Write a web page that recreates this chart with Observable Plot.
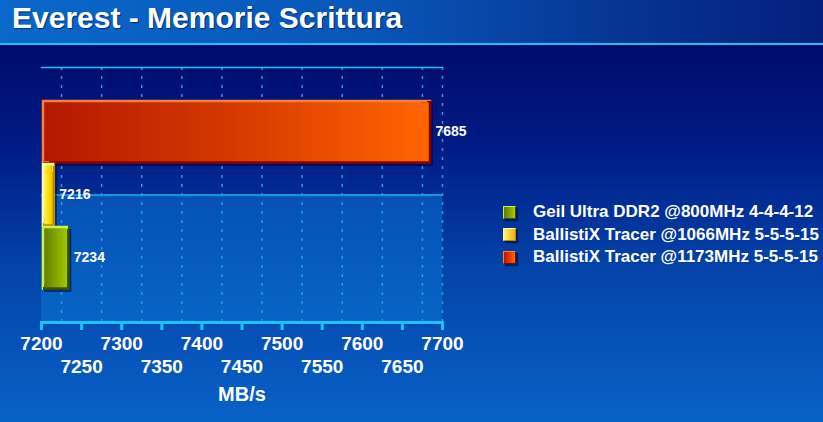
<!DOCTYPE html>
<html>
<head>
<meta charset="utf-8">
<script src="https://cdn.jsdelivr.net/npm/d3@7"></script>
<script src="https://cdn.jsdelivr.net/npm/@observablehq/plot@0.6"></script>
<style>
  html, body { margin: 0; padding: 0; background: #000870; }
  #wrap {
    position: relative; width: 823px; height: 422px; overflow: hidden;
    font-family: "Liberation Sans", Arial, sans-serif;
    background: linear-gradient(180deg, #000a6c 0px, #000a6c 46px, #001c86 150px, #0444aa 270px, #0862c6 422px);
  }
  #titlebar {
    position: absolute; left: 0; top: 0; width: 823px; height: 43px;
    background: linear-gradient(90deg, #0a68ca 0%, #0856b8 45%, #06308e 80%, #041f7e 100%);
    border-bottom: 2px solid #1ec2f2;
  }
  #title {
    position: absolute; left: 12px; top: 0px; color: #fff; font-weight: bold;
    font-size: 30px; line-height: 35px; white-space: nowrap;
    text-shadow: 1px 1px 1px rgba(0, 10, 60, 0.6);
  }
  #floor {
    position: absolute; left: 41px; top: 194px; width: 401px; height: 128px;
    background: linear-gradient(180deg, #0552b6 0%, #0864c6 100%);
    border-top: 2px solid #1a92da; box-sizing: border-box;
  }
  #chart { position: absolute; left: 0; top: 0; }
  #legend { position: absolute; left: 503px; top: 201px; }
  .item { display: flex; align-items: center; height: 22.5px; white-space: nowrap; }
  .sw { width: 11px; height: 11px; margin-right: 17px; border: 1px solid; box-shadow: 2px 2px 1px rgba(0,0,40,0.5); }
  .lab { color: #fff; font-weight: bold; font-size: 17px; }
</style>
</head>
<body>
<div id="wrap">
  <div id="titlebar"></div>
  <div id="title">Everest - Memorie Scrittura</div>
  <div id="floor"></div>
  <div id="chart"></div>
  <div id="legend"></div>
</div>
<script>
// ---- data ----
const seriesNames = [
  "BallistiX Tracer @1173MHz 5-5-5-15",
  "BallistiX Tracer @1066MHz 5-5-5-15",
  "Geil Ultra DDR2 @800MHz 4-4-4-12"
];
const seriesValues = [7685, 7216, 7234];
const legendOrder = [
  "Geil Ultra DDR2 @800MHz 4-4-4-12",
  "BallistiX Tracer @1066MHz 5-5-5-15",
  "BallistiX Tracer @1173MHz 5-5-5-15"
];
const xDomain = [7200, 7700];
const majorTicks = [7200, 7300, 7400, 7500, 7600, 7700];
const minorTicks = [7250, 7350, 7450, 7550, 7650];
const allTicks = [7200, 7250, 7300, 7350, 7400, 7450, 7500, 7550, 7600, 7650, 7700];
const gridValues = [7225, 7275, 7325, 7375, 7425, 7475, 7525, 7575, 7625, 7675, 7700];
const axisLabel = ["MB/s"];

// ---- styles (per series, same order as seriesNames) ----
const fillStops = [
  ["#b41800", "#d63a00", "#ff6600"],
  ["#fff27a", "#ffe000", "#e8b400"],
  ["#5e7c00", "#82a400", "#a4cc00"]
];
const edgeStops = [
  ["#f4803c", "#8c0000"],
  ["#fff6b0", "#b88a00"],
  ["#cef04a", "#3c5400"]
];

const data = seriesNames.map((name, i) => ({name, value: seriesValues[i], i}));
const cyan = "#1ec2f2";
const baseline = xDomain[0];

const chart = Plot.plot({
  width: 823,
  height: 422,
  marginLeft: 41,
  marginRight: 381,
  marginTop: 67,
  marginBottom: 100,
  style: {background: "transparent", fontFamily: "Liberation Sans, Arial, sans-serif", overflow: "visible"},
  x: {domain: xDomain, axis: null, label: null},
  y: {domain: seriesNames, axis: null, label: null, paddingInner: 0, paddingOuter: 0.5},
  marks: [
    Plot.gridX({ticks: gridValues, stroke: "#1c9ee4", strokeOpacity: 1, strokeWidth: 1.5, strokeDasharray: "3,6"}),
    Plot.frame({anchor: "top", stroke: cyan, strokeWidth: 1.5}),
    Plot.barX(data, {x1: baseline, x2: "value", y: "name", fill: "#000530", fillOpacity: 0.55, dx: 3, dy: 3}),
    ...data.map((d, i) => Plot.barX([d], {
      x1: baseline, x2: "value", y: "name",
      fill: `url(#fill${i})`, stroke: `url(#edge${i})`, strokeWidth: 2.5,
      insetTop: 1, insetBottom: 0.5, insetLeft: 2
    })),
    Plot.text(data, {x: "value", y: "name", text: d => String(d.value), dx: 5, textAnchor: "start",
      fill: "white", fontSize: 14, fontWeight: "bold"}),
    Plot.frame({anchor: "bottom", stroke: cyan, strokeWidth: 3}),
    Plot.axisX({ticks: allTicks, tickSize: 8, tickFormat: () => "", label: null, stroke: cyan, strokeWidth: 3}),
    Plot.axisX({ticks: majorTicks, tickSize: 0, tickPadding: 14, label: null, fill: "white", fontSize: 19, fontWeight: "bold", tickFormat: d => String(d)}),
    Plot.axisX({ticks: minorTicks, tickSize: 0, tickPadding: 37, label: null, fill: "white", fontSize: 19, fontWeight: "bold", tickFormat: d => String(d)}),
    Plot.text(axisLabel, {frameAnchor: "bottom", lineAnchor: "top", dy: 64, text: d => d, fill: "white", fontSize: 20, fontWeight: "bold"})
  ]
});

// gradient defs
const svg = d3.select(chart.tagName.toLowerCase() === "svg" ? chart : chart.querySelector("svg"));
const defs = svg.insert("defs", ":first-child");
fillStops.forEach((stops, i) => {
  const g = defs.append("linearGradient").attr("id", `fill${i}`).attr("x1", 0).attr("y1", 0).attr("x2", 1).attr("y2", 0);
  stops.forEach((c, k) => g.append("stop").attr("offset", k / (stops.length - 1)).attr("stop-color", c));
});
edgeStops.forEach((stops, i) => {
  const g = defs.append("linearGradient").attr("id", `edge${i}`).attr("x1", 0).attr("y1", 0).attr("x2", 1).attr("y2", 1);
  g.append("stop").attr("offset", 0).attr("stop-color", stops[0]);
  g.append("stop").attr("offset", 0.5).attr("stop-color", stops[0]);
  g.append("stop").attr("offset", 0.5).attr("stop-color", stops[1]);
  g.append("stop").attr("offset", 1).attr("stop-color", stops[1]);
});
document.getElementById("chart").appendChild(chart);

// legend
const legend = d3.select("#legend");
legendOrder.forEach(name => {
  const i = seriesNames.indexOf(name);
  const item = legend.append("div").attr("class", "item");
  item.append("div").attr("class", "sw")
    .style("background", `linear-gradient(90deg, ${fillStops[i][0]}, ${fillStops[i][2]})`)
    .style("border-color", `${edgeStops[i][0]} ${edgeStops[i][1]} ${edgeStops[i][1]} ${edgeStops[i][0]}`);
  item.append("div").attr("class", "lab").text(name);
});
</script>
</body>
</html>
